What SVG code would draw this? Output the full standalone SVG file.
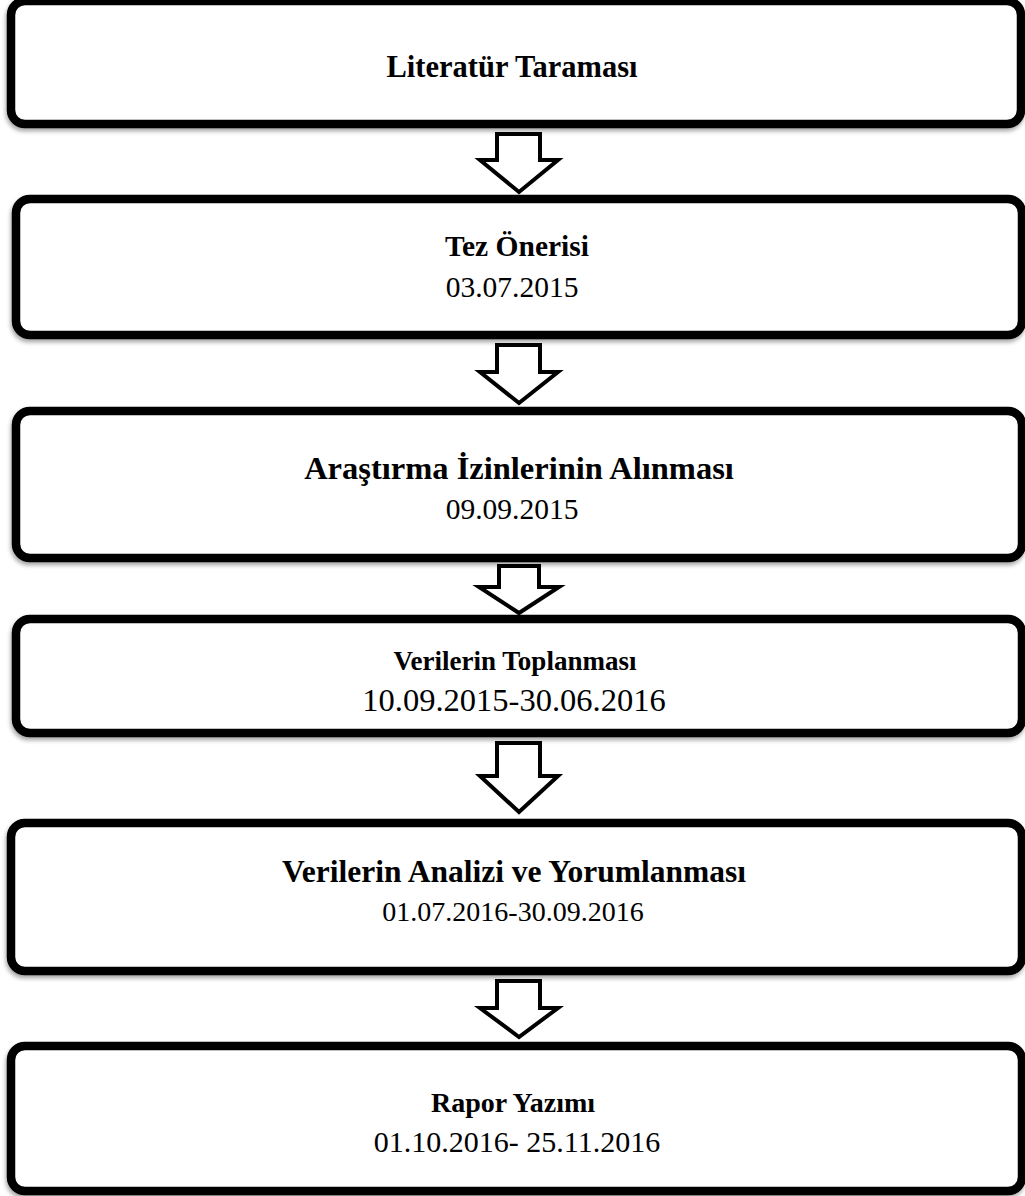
<svg xmlns="http://www.w3.org/2000/svg" width="1025" height="1196" viewBox="0 0 1025 1196">
<defs>
<filter id="sh" x="-5%" y="-10%" width="110%" height="125%">
<feDropShadow dx="-1" dy="3" stdDeviation="2" flood-color="#000" flood-opacity="0.35"/>
</filter>
<style>
.box{fill:#fff;stroke:#000;stroke-width:8.5;filter:url(#sh)}
.t{font-family:"Liberation Serif","Times New Roman",serif;font-size:29.5px;text-anchor:middle;fill:#000}
.b{font-weight:bold}
.arr{fill:#fff;stroke:#000;stroke-width:4;stroke-linejoin:miter}
</style>
</defs>
<g id="n1"><rect class="box" x="11" y="1" width="1010" height="123" rx="14"/><text class="t b" x="512" y="77" style="font-size:30.5px">Literatür Taraması</text></g>
<g id="n2"><rect class="box" x="16" y="199" width="1006" height="136" rx="14"/><text class="t b" x="517" y="256">Tez Önerisi</text><text class="t" x="512" y="297">03.07.2015</text></g>
<g id="n3"><rect class="box" x="16" y="411" width="1006" height="147" rx="14"/><text class="t b" x="519" y="479" style="font-size:32.5px">Araştırma İzinlerinin Alınması</text><text class="t" x="512" y="519">09.09.2015</text></g>
<g id="n4"><rect class="box" x="16" y="619" width="1006" height="114" rx="14"/><text class="t b" x="515" y="670" style="font-size:27px">Verilerin Toplanması</text><text class="t" x="514" y="711" style="font-size:32.5px">10.09.2015-30.06.2016</text></g>
<g id="n5"><rect class="box" x="11" y="823" width="1011" height="148" rx="14"/><text class="t b" x="514" y="882" style="font-size:31.5px">Verilerin Analizi ve Yorumlanması</text><text class="t" x="513" y="921" style="font-size:28px">01.07.2016-30.09.2016</text></g>
<g id="n6"><rect class="box" x="11" y="1046" width="1011" height="145" rx="14"/><text class="t b" x="513" y="1112" style="font-size:28px">Rapor Yazımı</text><text class="t" x="517" y="1152" style="font-size:30px">01.10.2016- 25.11.2016</text></g>
<g id="connectors">
<polygon class="arr" points="497,134 540,134 540,160 558,160 519,192 480,160 497,160"/>
<polygon class="arr" points="497,345 540,345 540,372 558,372 519,403 480,372 497,372"/>
<polygon class="arr" points="499,566 539,566 539,587 559,587 519,613 479,587 499,587"/>
<polygon class="arr" points="497,743 540,743 540,776 558,776 519,812 480,776 497,776"/>
<polygon class="arr" points="497,981 540,981 540,1008 558,1008 519,1037 480,1008 497,1008"/>
</g>
</svg>
